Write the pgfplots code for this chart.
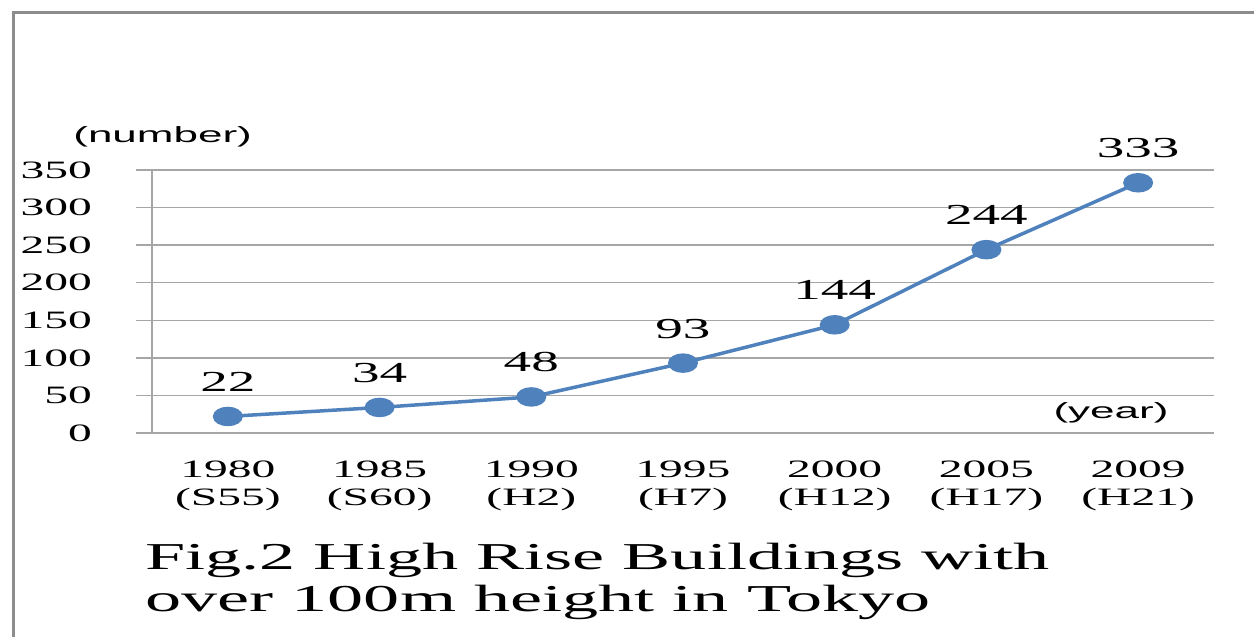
\documentclass[border=0pt]{standalone}
\usepackage{fontspec}
\usepackage{pgfplots}
\pgfplotsset{compat=1.18}
\newfontfamily\serifW[FakeStretch=1.9]{Liberation Serif}
\newfontfamily\sansW[FakeStretch=2.0]{Liberation Sans}
\definecolor{framegray}{HTML}{8C8C8C}
\definecolor{gridgray}{HTML}{A6A6A6}
\definecolor{lineblue}{HTML}{4F81BD}
\begin{document}
\begin{tikzpicture}[x=1pt,y=1pt]
\path[use as bounding box] (0,0) rectangle (627,318.5);
\draw[framegray, line width=1.5pt] (6.5,0) -- (6.5,312) -- (627,312);
\begin{axis}[
  at={(76pt,102pt)}, anchor=south west,
  scale only axis, width=531pt, height=131.5pt,
  clip=false,
  xmin=-0.5, xmax=6.5, ymin=0, ymax=350,
  ytick={0,50,...,350},
  xtick={0,...,6},
  xticklabels={{1980\\(S55)},{1985\\(S60)},{1990\\(H2)},{1995\\(H7)},{2000\\(H12)},{2005\\(H17)},{2009\\(H21)}},
  minor xtick={-0.5,0.5,...,6.5},
  axis x line*=bottom, axis y line*=left,
  axis line style={gridgray, line width=0.75pt, -},
  ymajorgrids, grid style={gridgray, line width=0.75pt},
  tick align=outside,
  major tick length=8pt, minor tick length=4pt,
  xtick style={draw=none},
  minor tick style={gridgray, line width=0.75pt},
  ytick style={gridgray, line width=0.75pt},
  /pgf/number format/assume math mode=true,
  yticklabel style={font=\serifW\fontsize{12.5}{14}\selectfont, text=black, xshift=-18.5pt},
  xticklabel style={font=\serifW\fontsize{12.5}{14}\selectfont, align=center, text=black, yshift=-2.5pt},
  nodes near coords,
  nodes near coords style={font=\serifW\fontsize{14.5}{16}\selectfont, text=black, anchor=base, inner sep=0pt, yshift=12.5pt},
]
\addplot[lineblue, line width=1.75pt, mark=*, mark size=4pt, mark options={xscale=1.65, fill=lineblue, draw=lineblue}]
  coordinates {(0,22) (1,34) (2,48) (3,93) (4,144) (5,244) (6,333)};
\node[font=\sansW\fontsize{11}{13}\selectfont] at (rel axis cs:0.010,1.125) {(number)};
\node[font=\sansW\fontsize{11}{13}\selectfont] at (rel axis cs:0.903,0.076) {(year)};
\end{axis}
\node[anchor=base west, inner sep=0pt, font=\serifW\fontsize{19}{21}\selectfont] at (72.5,33.5) {Fig.2 High Rise Buildings with};
\node[anchor=base west, inner sep=0pt, font=\serifW\fontsize{19}{21}\selectfont] at (72.5,12.5) {over 100m height in Tokyo};
\end{tikzpicture}
\end{document}
